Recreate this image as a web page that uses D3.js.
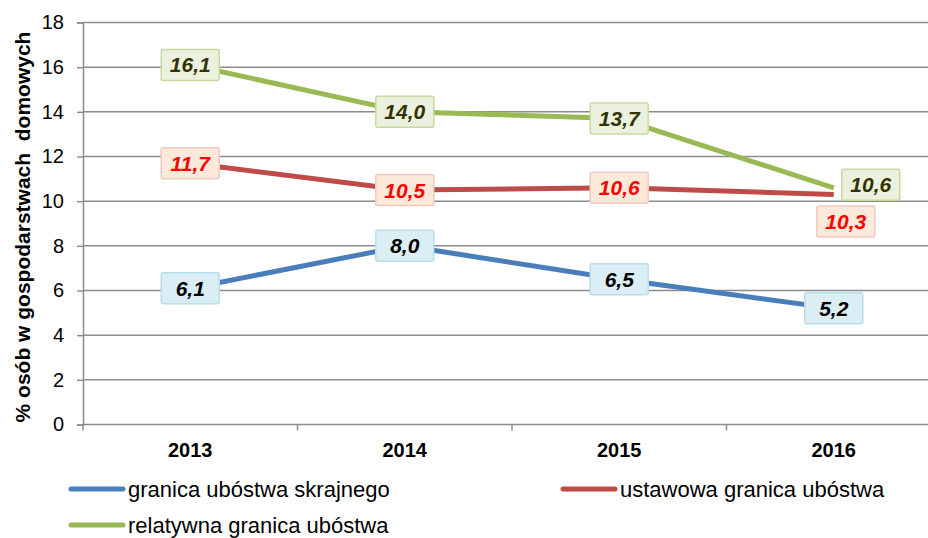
<!DOCTYPE html>
<html>
<head>
<meta charset="utf-8">
<script src="https://cdn.jsdelivr.net/npm/d3@7"></script>
<style>
    body { margin: 0; background: #fff; }
    svg { display: block; font-family: Arial, "Liberation Sans", sans-serif; }
</style>
</head>
<body>
<svg id="chart" width="928" height="538"></svg>
<script>
// Chart data
const years = ["2013", "2014", "2015", "2016"];
const extreme_values = [6.1, 8.0, 6.5, 5.2];
const statutory_values = [11.7, 10.5, 10.6, 10.3];
const relative_values = [16.1, 14.0, 13.7, 10.6];
const series_names = ["granica ubóstwa skrajnego", "ustawowa granica ubóstwa", "relatywna granica ubóstwa"];
const y_ticks = [0, 2, 4, 6, 8, 10, 12, 14, 16, 18];
const y_title = "% osób w gospodarstwach  domowych";

// Series styling
const series = [
    { name: series_names[0], values: extreme_values, line: "#4a7ebb", box: "#dbeef4", border: "#b9dde9", text: "#000000" },
    { name: series_names[1], values: statutory_values, line: "#be4b48", box: "#fde9d9", border: "#f3c8c0", text: "#ff0000" },
    { name: series_names[2], values: relative_values, line: "#98b954", box: "#ebf1de", border: "#c6d9a0", text: "#333300" }
];

const svg = d3.select("#chart");
const plot_left = 83, plot_top = 22.5, plot_bottom = 424.5, plot_right = 941;

// Scales
const x = d3.scaleBand().domain(years).range([plot_left, plot_right]);
const y = d3.scaleLinear().domain([0, 18]).range([plot_bottom, plot_top]);

// Horizontal gridlines
svg.append("g")
    .selectAll("line")
    .data(y_ticks)
    .enter()
    .append("line")
    .attr("x1", plot_left)
    .attr("x2", plot_right)
    .attr("y1", d => y(d))
    .attr("y2", d => y(d))
    .attr("stroke", "#8c8c8c")
    .attr("stroke-width", 1.5);

// Y axis
const y_axis = svg.append("g")
    .attr("transform", "translate(" + plot_left + ",0)")
    .call(d3.axisLeft(y).tickValues(y_ticks).tickSize(6).tickPadding(13).tickFormat(d3.format("d")));
y_axis.select(".domain").attr("stroke", "#8c8c8c").attr("stroke-width", 1.5);
y_axis.selectAll(".tick line").attr("stroke", "#8c8c8c").attr("stroke-width", 1.5);
y_axis.selectAll("text")
    .attr("font-size", "20px")
    .attr("font-family", "Arial, 'Liberation Sans', sans-serif")
    .attr("fill", "#000");

// X axis ticks at category boundaries
const x_axis = svg.append("g")
    .attr("transform", "translate(0," + plot_bottom + ")");
x_axis.selectAll("line")
    .data(years)
    .enter()
    .append("line")
    .attr("x1", d => x(d))
    .attr("x2", d => x(d))
    .attr("y1", 0)
    .attr("y2", 6)
    .attr("stroke", "#8c8c8c")
    .attr("stroke-width", 1.5);
x_axis.selectAll("text")
    .data(years)
    .enter()
    .append("text")
    .attr("x", d => x(d) + x.bandwidth() / 2)
    .attr("y", 32)
    .attr("text-anchor", "middle")
    .attr("font-size", "20px")
    .attr("font-weight", "bold")
    .text(d => d);

// Y axis title
svg.append("text")
    .attr("transform", "translate(30,227) rotate(-90)")
    .attr("text-anchor", "middle")
    .attr("font-size", "21px")
    .attr("font-weight", "bold")
    .style("white-space", "pre")
    .text(y_title);

// Lines
const line = d3.line()
    .x((d, i) => x(years[i]) + x.bandwidth() / 2)
    .y(d => y(d));

series.forEach(s => {
    svg.append("path")
        .datum(s.values)
        .attr("fill", "none")
        .attr("stroke", s.line)
        .attr("stroke-width", 5)
        .attr("stroke-linejoin", "round")
        .attr("d", line);
});

// Data labels (boxed), the last year ones are shifted to avoid overlap
const fmt = v => d3.format(".1f")(v).replace(".", ",");
const box_w = 58, box_h = 31;
series.forEach((s, si) => {
    s.values.forEach((v, i) => {
        let cx = x(years[i]) + x.bandwidth() / 2;
        let cy = y(v);
        if (i === years.length - 1 && si === 2) { cx += 37; cy -= 3; }
        if (i === years.length - 1 && si === 1) { cx += 12; cy += 27; }
        const g = svg.append("g").attr("transform", "translate(" + cx + "," + cy + ")");
        g.append("rect")
            .attr("x", -box_w / 2)
            .attr("y", -box_h / 2)
            .attr("width", box_w)
            .attr("height", box_h)
            .attr("rx", 2)
            .attr("fill", s.box)
            .attr("stroke", s.border)
            .attr("stroke-width", 1.5);
        g.append("text")
            .attr("text-anchor", "middle")
            .attr("dy", "0.36em")
            .attr("font-size", "21px")
            .attr("font-weight", "bold")
            .attr("font-style", "italic")
            .attr("fill", s.text)
            .text(fmt(v));
    });
});

// Legend
const legend_pos = [[71, 489], [563, 489], [71, 525]];
series.forEach((s, i) => {
    const g = svg.append("g").attr("transform", "translate(" + legend_pos[i][0] + "," + legend_pos[i][1] + ")");
    g.append("line")
        .attr("x1", 0)
        .attr("x2", 52)
        .attr("stroke", s.line)
        .attr("stroke-width", 5)
        .attr("stroke-linecap", "round");
    g.append("text")
        .attr("x", 57)
        .attr("dy", "0.35em")
        .attr("font-size", "22px")
        .attr("fill", "#000")
        .text(s.name);
});
</script>
</body>
</html>
